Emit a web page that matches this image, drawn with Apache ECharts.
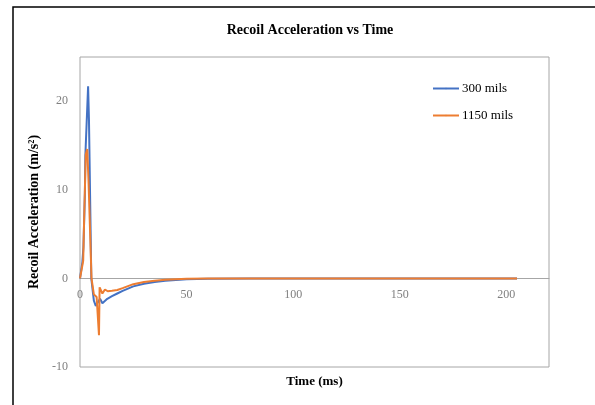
<!DOCTYPE html>
<html>
<head>
<meta charset="utf-8">
<script src="https://cdn.jsdelivr.net/npm/echarts@6/dist/echarts.min.js"></script>
<style>
html,body{margin:0;padding:0;background:#fff;}
#chart{width:595px;height:405px;}
</style>
</head>
<body>
<div id="chart"></div>
<script>
// Data
var seriesNames = ['300 mils', '1150 mils'];
var time300 = [0, 1.1, 1.6, 2.3, 2.5, 3.8, 4.2, 5.3, 6.5, 7.4, 8.3, 9.4, 10.5, 12.8, 15, 17.5, 20, 25, 30, 35, 40, 50, 60, 80, 100, 150, 205];
var acc300  = [0, 1.8, 3.5, 9.6, 13.8, 21.7, 18, 0, -2.5, -3.1, -3.0, -2.3, -2.8, -2.3, -2.0, -1.7, -1.4, -0.9, -0.6, -0.4, -0.25, -0.1, -0.05, -0.02, 0, 0, 0];
var time1150 = [0, 1.5, 1.9, 2.3, 2.7, 3.4, 4, 5.4, 6.5, 7.8, 8.9, 9.2, 10.5, 11.7, 13, 15, 17.5, 20, 25, 30, 35, 40, 50, 60, 80, 100, 150, 205];
var acc1150  = [0, 2, 6.2, 6, 14, 14.6, 11, 0, -1.8, -2.1, -6.4, -1.0, -1.7, -1.25, -1.45, -1.4, -1.3, -1.1, -0.65, -0.4, -0.25, -0.15, -0.05, -0.02, 0, 0, 0, 0];
var xTicks = [0, 50, 100, 150, 200];
var yTicks = [-10, 0, 10, 20];
var yMin = -10, yMax = 25;

function pairs(xs, ys) {
  var out = [];
  for (var i = 0; i < xs.length; i++) out.push([xs[i], ys[i]]);
  return out;
}

var gridTop = 57, gridBottom = 38, H = 405;
var plotH = H - gridTop - gridBottom;
// lift the x axis (line + labels) from the bottom edge up to the y = 0 level
var zeroOffset = -((0 - yMin) / (yMax - yMin)) * plotH;

var serif = '"Liberation Serif", "Times New Roman", serif';
var chart = echarts.init(document.getElementById('chart'));
chart.setOption({
  backgroundColor: '#ffffff',
  animation: false,
  title: {
    text: 'Recoil Acceleration vs Time',
    left: 305, top: 18, textAlign: 'center',
    textStyle: { fontFamily: serif, fontSize: 14, fontWeight: 'bold', color: '#000' }
  },
  graphic: [{
    type: 'rect', shape: { x: 13, y: 7, width: 600, height: 420 },
    style: { fill: 'none', stroke: '#000', lineWidth: 1.5 }, silent: true, z: 100
  }],
  legend: {
    data: seriesNames,
    orient: 'vertical',
    left: 427, top: 77,
    itemWidth: 26, itemHeight: 2, itemGap: 14,
    textStyle: { fontFamily: serif, fontSize: 13, color: '#000', padding: [0, 0, 0, -2] }
  },
  grid: {
    left: 80, right: 46, top: gridTop, bottom: gridBottom,
    containLabel: false, outerBoundsMode: 'none',
    show: true, borderColor: '#a6a6a6', borderWidth: 1, backgroundColor: '#fff'
  },
  xAxis: {
    type: 'value', min: 0, max: 220, interval: 50,
    offset: zeroOffset,
    name: 'Time (ms)', nameLocation: 'middle', nameGap: 97,
    nameTextStyle: { fontFamily: serif, fontSize: 13, fontWeight: 'bold', color: '#000' },
    axisLine: { onZero: false, lineStyle: { color: '#a6a6a6', width: 1 } },
    axisTick: { show: false },
    splitLine: { show: false },
    axisLabel: {
      fontFamily: serif, fontSize: 12, color: '#7f7f7f', margin: 10,
      formatter: function (v) { return xTicks.indexOf(v) >= 0 ? String(v) : ''; }
    }
  },
  yAxis: {
    type: 'value', min: yMin, max: yMax, interval: 10,
    name: 'Recoil Acceleration (m/s²)', nameLocation: 'middle', nameGap: 28,
    nameTextStyle: { fontFamily: serif, fontSize: 14, fontWeight: 'bold', color: '#000' },
    axisLine: { show: false },
    axisTick: { show: false },
    splitLine: { show: false },
    axisLabel: {
      fontFamily: serif, fontSize: 12, color: '#7f7f7f', margin: 12,
      formatter: function (v) { return yTicks.indexOf(v) >= 0 ? String(v) : ''; }
    }
  },
  series: [{
    name: seriesNames[0], type: 'line', symbol: 'none',
    data: pairs(time300, acc300),
    lineStyle: { color: '#4472C4', width: 2 }, itemStyle: { color: '#4472C4' }
  }, {
    name: seriesNames[1], type: 'line', symbol: 'none',
    data: pairs(time1150, acc1150),
    lineStyle: { color: '#ED7D31', width: 2 }, itemStyle: { color: '#ED7D31' }
  }]
});
</script>
</body>
</html>
